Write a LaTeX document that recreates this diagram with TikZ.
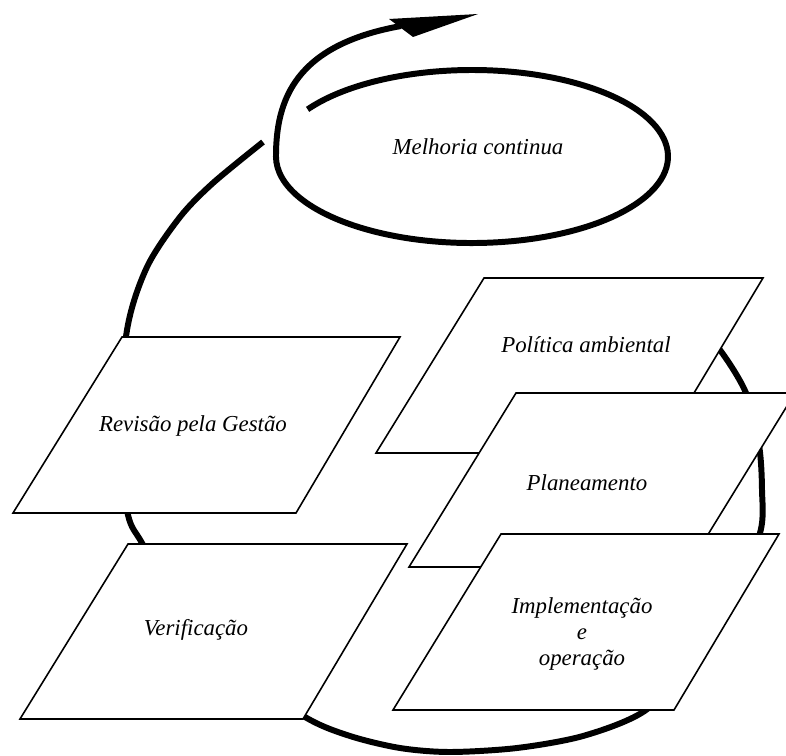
\documentclass[tikz,border=0pt]{standalone}
\usepackage{fontspec}
\setmainfont{Liberation Serif}
\usepackage{tikz}

\begin{document}
\begin{tikzpicture}[scale=0.2]
\tikzstyle{every node}+=[inner sep=0pt, align=center, font=\fontsize{13}{14.7}\selectfont\itshape]
\tikzstyle{cycleline}=[black, line width=3.4pt]
\tikzstyle{box}=[black, line width=0.9pt, fill=white]
\useasboundingbox (0,0) rectangle (78.6,-75.6);
% big loop
\draw [cycleline] plot [smooth] coordinates {(69.0,-31.8) (72.0,-35.0) (74.6,-39.3) (75.9,-44.5) (76.2,-49.0) (76.0,-53.3) (73.0,-60.5) (69.3,-66.5) (64.3,-71.2) (58.3,-73.6) (51.7,-74.8) (45.0,-75.2) (40.0,-74.8) (35.0,-73.6) (30.5,-71.7) (23.0,-66.5) (17.5,-60.0) (14.2,-54.3) (12.8,-51.5) (11.8,-44.0) (12.7,-33.0) (14.7,-26.7) (18.0,-21.7) (21.3,-18.3) (26.3,-14.2)};
% melhoria continua
\draw [cycleline] (30.76,-10.94) arc [start angle=147, end angle=-180, x radius=19.6, y radius=8.65] .. controls (27.6,-10) and (29.5,-4.5) .. (40.1,-2.6);
\fill [black] (47.8,-1.4) -- (38.9,-1.9) -- (41.3,-3.7) -- cycle;
\draw (47.8,-14.7) node (melhoria) {Melhoria continua};
% left boxes
\draw [box] (12.2,-33.7) -- (40.0,-33.7) -- (29.6,-51.3) -- (1.3,-51.3) -- cycle;
\draw (19.3,-42.6) node (revisao) {Revisão pela Gestão};
\draw [box] (12.8,-54.4) -- (40.7,-54.4) -- (30.3,-71.9) -- (2.0,-71.9) -- cycle;
\draw (19.6,-63.0) node (verif) {Verificação};
% right boxes
\draw [box] (48.4,-27.8) -- (76.3,-27.8) -- (65.8,-45.3) -- (37.6,-45.3) -- cycle;
\draw (58.6,-34.5) node (politica) {Política ambiental};
\draw [box] (51.6,-39.3) -- (79.5,-39.3) -- (68.8,-56.7) -- (40.9,-56.7) -- cycle;
\draw (58.7,-48.3) node (planeam) {Planeamento};
\draw [box] (50.1,-53.4) -- (77.9,-53.4) -- (67.4,-71.0) -- (39.3,-71.0) -- cycle;
\draw (58.2,-63.4) node (implem) {Implementação\\e\\operação};
\end{tikzpicture}
\end{document}
